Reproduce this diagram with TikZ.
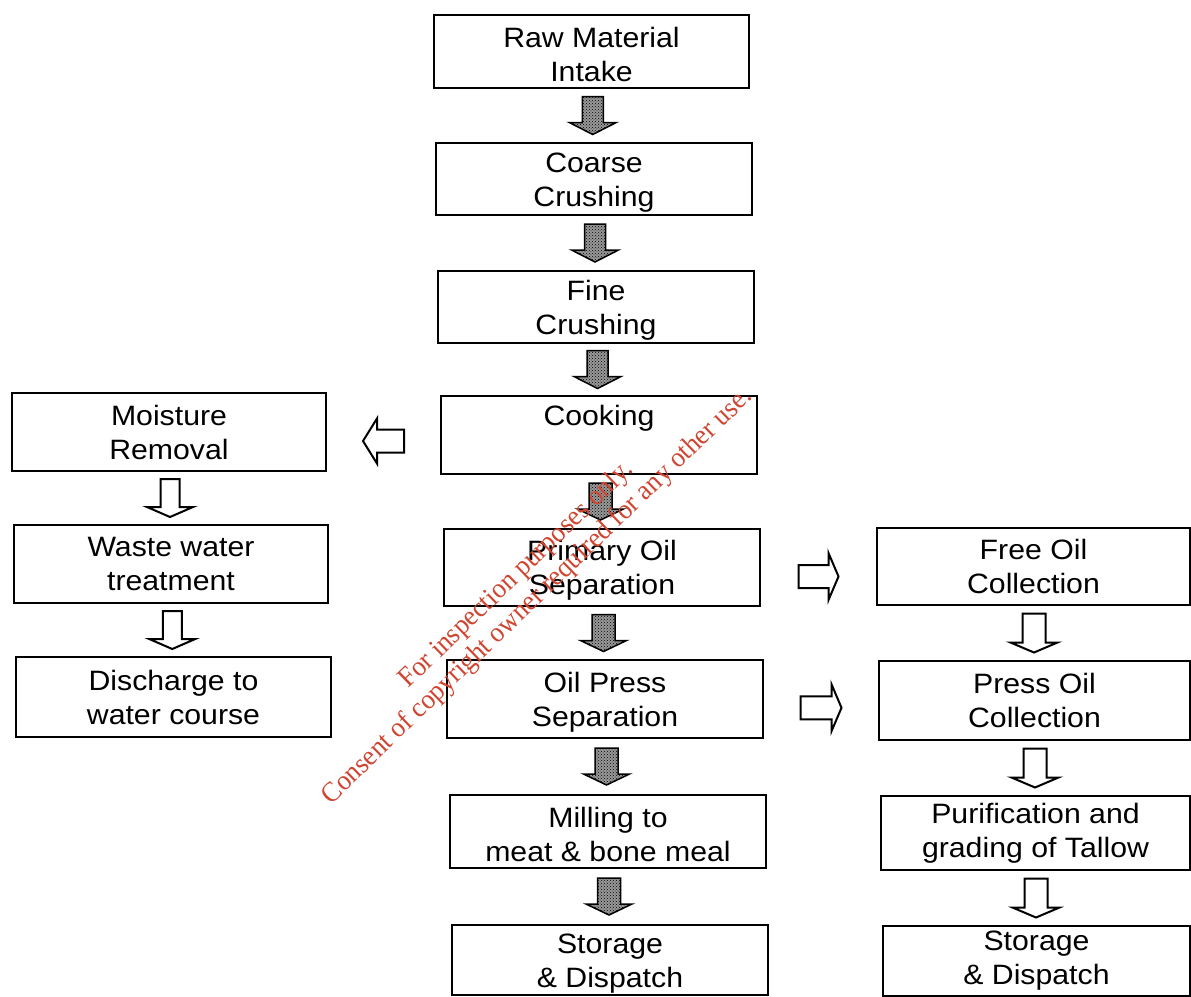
\documentclass[tikz,border=0pt]{standalone}
\usepackage{fontspec}
\setmainfont{Liberation Sans}[FakeStretch=1.08]
\newfontfamily\wmfont{Liberation Serif}[FakeStretch=0.95]
\usetikzlibrary{calc,patterns}
\definecolor{wmred}{RGB}{208,68,48}
\newcommand\tallstrut{\rule{0pt}{26pt}}
% down block arrow: coord, style, shaft width, head width, length, head length
\newcommand\DArr[6]{\draw[#2] ($(#1)+({-(#3)/2},{-(#5)/2})$) -- ++(#3,0) -- ++(0,{#5-#6}) -- ++({(#4-#3)/2},0) -- ++({-(#4)/2},#6) -- ++({-(#4)/2},{-(#6)}) -- ++({(#4-#3)/2},0) -- cycle;}
% left block arrow
\newcommand\LArr[6]{\draw[#2] ($(#1)+({(#5)/2},{-(#3)/2})$) -- ++(0,#3) -- ++({-(#5-#6)},0) -- ++(0,{(#4-#3)/2}) -- ++({-(#6)},{-(#4)/2}) -- ++(#6,{-(#4)/2}) -- ++(0,{(#4-#3)/2}) -- cycle;}
% right block arrow
\newcommand\RArr[6]{\draw[#2] ($(#1)+({-(#5)/2},{-(#3)/2})$) -- ++(0,#3) -- ++({#5-#6},0) -- ++(0,{(#4-#3)/2}) -- ++(#6,{-(#4)/2}) -- ++({-(#6)},{-(#4)/2}) -- ++(0,{(#4-#3)/2}) -- cycle;}
\begin{document}
\begin{tikzpicture}[x=1pt,y=-1pt,
  box/.style={draw, line width=1.8pt, inner sep=0pt, align=center,
    font=\fontsize{28}{34}\selectfont},
  stip/.style={draw, line width=1.5pt, preaction={fill=black!40}, pattern=crosshatch dots, pattern color=black},
  hollow/.style={draw, line width=2pt, fill=white, line join=miter},
  wm/.style={font=\wmfont\fontsize{28}{30}\selectfont, text=wmred, align=center}]
\fill[white] (0,0) rectangle (1191,996);
\useasboundingbox (0,0) rectangle (1191,996);

% centre column
\node[box, minimum width=315, minimum height=73] (raw) at (591.5,51.5) {\tallstrut Raw Material\\Intake};
\node[box, minimum width=316, minimum height=72] (coarse) at (594,179) {\tallstrut Coarse\\Crushing};
\node[box, minimum width=316, minimum height=72] (fine) at (596,307) {\tallstrut Fine\\Crushing};
\node[box, minimum width=316, minimum height=78] (cook) at (599,435) {\tallstrut Cooking\\\strut};
\node[box, minimum width=316, minimum height=77] (prim) at (602,567.5) {\tallstrut Primary Oil\\Separation};
\node[box, minimum width=316, minimum height=78] (press) at (605,699) {\tallstrut Oil Press\\Separation};
\node[box, minimum width=316, minimum height=73] (mill) at (608,831.5) {\tallstrut Milling to\\meat \& bone meal};
\node[box, minimum width=316, minimum height=70] (store1) at (610,960) {\tallstrut Storage\\\& Dispatch};

% left column
\node[box, minimum width=314, minimum height=78] (moist) at (169,432) {Moisture\\Removal};
\node[box, minimum width=314, minimum height=78] (waste) at (171,564) {Waste water\\treatment};
\node[box, minimum width=315, minimum height=80] (disch) at (173.5,697) {Discharge to\\water course};

% right column
\node[box, minimum width=313, minimum height=77] (free) at (1033.5,566.5) {Free Oil\\Collection};
\node[box, minimum width=311, minimum height=79] (poil) at (1034.5,700.5) {Press Oil\\Collection};
\node[box, minimum width=309, minimum height=74] (puri) at (1035.5,833) {Purification and\\grading of Tallow};
\node[box, minimum width=307, minimum height=70] (store2) at (1036.5,961) {Storage\\\& Dispatch};

% connector positions
\coordinate (c1) at ($(raw.south)!0.5!(coarse.north)$);
\coordinate (c2) at ($(coarse.south)!0.5!(fine.north)$);
\coordinate (c3) at ($(fine.south)!0.5!(cook.north)$);
\coordinate (c4) at ($(cook.south)!0.5!(prim.north)$);
\coordinate (c5) at ($(prim.south)!0.5!(press.north)$);
\coordinate (c6) at ($(press.south)!0.5!(mill.north)$);
\coordinate (c7) at ($(mill.south)!0.5!(store1.north)$);
\coordinate (l1) at ($(moist.south)!0.5!(waste.north)$);
\coordinate (l2) at ($(waste.south)!0.5!(disch.north)$);
\coordinate (r1) at ($(free.south)!0.5!(poil.north)$);
\coordinate (r2) at ($(poil.south)!0.5!(puri.north)$);
\coordinate (r3) at ($(puri.south)!0.5!(store2.north)$);
\coordinate (h1) at ($($(moist.east)!0.5!(cook.west)$)+(0,7.5)$);
\coordinate (h2) at ($($(prim.east)!0.5!(free.west)$)+(0,9.5)$);
\coordinate (h3) at ($($(press.east)!0.5!(poil.west)$)+(0,8)$);

% stippled down arrows
\DArr{c1}{stip}{21}{47}{38}{12}
\DArr{c2}{stip}{21}{47}{38}{12}
\DArr{c3}{stip}{21}{47}{38}{12}
\DArr{c4}{stip}{23}{46}{37}{11}
\DArr{c5}{stip}{23}{46}{37}{11}
\DArr{c6}{stip}{23}{46}{37}{11}
\DArr{c7}{stip}{23}{46}{37}{11}

% hollow down arrows
\DArr{l1}{hollow}{19}{46}{38}{10}
\DArr{l2}{hollow}{19}{46}{38}{10}
\DArr{r1}{hollow}{23}{47}{39}{10}
\DArr{r2}{hollow}{23}{47}{39}{10}
\DArr{r3}{hollow}{23}{47}{39}{10}

% horizontal arrows
\LArr{h1}{hollow}{23}{45}{41}{14}
\RArr{h2}{hollow}{23}{47}{40}{10}
\RArr{h3}{hollow}{23}{47}{41}{10}

% watermark
\node[wm, rotate=44] (wmark) at (527,586) {For inspection purposes only.\\Consent of copyright owner required for any other use.};
\end{tikzpicture}
\end{document}
